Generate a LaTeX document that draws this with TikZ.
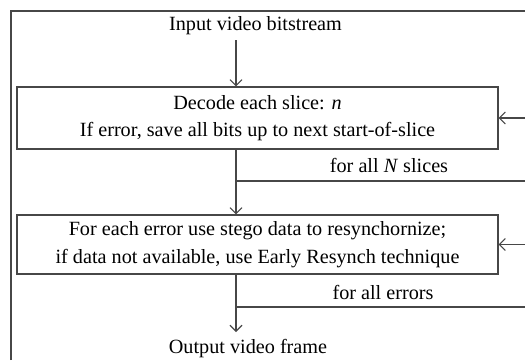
\documentclass[tikz,border=0pt]{standalone}
\usepackage{fontspec}
\setmainfont{Liberation Serif}
\usetikzlibrary{arrows.meta}
\begin{document}
\begin{tikzpicture}[x=1pt,y=-1pt,
  line/.style={draw=black!72, line width=1.1pt},
  arr/.style={line, -{Straight Barb[length=6pt,width=12pt]}},
  stepbox/.style={draw=black!72, line width=1.1pt, minimum width=481pt,
    align=center, inner sep=0pt, font=\fontsize{20.2}{27.5}\selectfont},
  lbl/.style={inner sep=0pt, font=\fontsize{20.2}{24}\selectfont}]
\useasboundingbox (0,0) rectangle (525,360);
% outer frame (open at the right and bottom)
\draw[line] (11,360) -- (11,11) -- (525,11);

% main column
\node[lbl] (in) at (255.5,26) {Input video bitstream};
\node[stepbox, minimum height=62pt] (dec) at (257.5,118)
  {Decode each slice: \textit{n}\\If error, save all bits up to next start-of-slice};
\node[stepbox, minimum height=59pt] (res) at (257.5,244.5)
  {For each error use stego data to resynchornize;\\if data not available, use Early Resynch technique};
\node[lbl] (out) at (248,349) {Output video frame};

% loop labels
\node[lbl] (l1) at (389,165) {for all \textit{N} slices};
\node[lbl] (l2) at (383,292) {for all errors};

% flow axis and loop points
\coordinate (ax) at (236,0);
\coordinate (j1) at (236,181);
\coordinate (e1) at (525,181);
\coordinate (r1) at (525,118);
\coordinate (j2) at (236,307);
\coordinate (e2) at (525,307);
\coordinate (r2) at (525,244.5);
\coordinate (o1) at (236,332);
\coordinate (s0) at (236,40);

% forward arrows
\draw[arr] (s0) -- (dec.north -| ax);
\draw[arr] (dec.south -| ax) -- (res.north -| ax);
\draw[arr] (res.south -| ax) -- (o1);

% loop-back lines
\draw[line] (j1) -- (e1);
\draw[arr] (r1) -- (dec.east);
\draw[line] (j2) -- (e2);
\draw[arr] (r2) -- (res.east);
\end{tikzpicture}
\end{document}
